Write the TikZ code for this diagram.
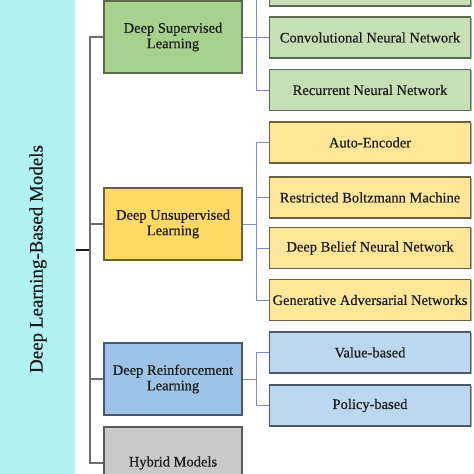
\documentclass[tikz,border=0pt]{standalone}
\usepackage{fontspec}
\setmainfont{Liberation Serif}[FakeBold=0.4]
\definecolor{cyanbar}{HTML}{B2F1F2}
\definecolor{supP}{HTML}{A9D18E}
\definecolor{supC}{HTML}{C5E0B4}
\definecolor{supB}{HTML}{5A6B50}
\definecolor{unsP}{HTML}{FFD966}
\definecolor{unsC}{HTML}{FFE699}
\definecolor{unsB}{HTML}{6B6040}
\definecolor{reiP}{HTML}{9DC3E6}
\definecolor{reiC}{HTML}{BDD7EE}
\definecolor{reiB}{HTML}{4A5868}
\definecolor{hybP}{HTML}{C9C9C9}
\definecolor{hybB}{HTML}{5A5A5A}
\definecolor{mainline}{HTML}{6E6E6E}
\definecolor{subline}{HTML}{7F8CC8}
\definecolor{txt}{HTML}{1A1A1A}
\usetikzlibrary{shadows}
\tikzset{
  parentbox/.style={draw=#1, line width=1.3pt, minimum width=138pt, minimum height=72pt, align=center, inner sep=0pt, font=\fontsize{14.5}{15.5}\selectfont, text=txt},
  childbox/.style={draw=#1, line width=1.2pt, minimum width=201pt, minimum height=41pt, inner sep=0pt, font=\fontsize{14.5}{15.5}\selectfont, text=txt, drop shadow={shadow xshift=1.5pt, shadow yshift=-0.5pt, fill=#1}},
  mainconn/.style={draw=mainline, line width=1.1pt},
  subconn/.style={draw=subline, line width=1pt},
}
\begin{document}
\begin{tikzpicture}[x=1pt,y=-1pt]
\useasboundingbox (0,0) rectangle (474,474);
\clip (0,0) rectangle (474,474);
% left bar
\fill[cyanbar] (0,-2) rectangle (75,476);
\node[rotate=90, font=\fontsize{19}{21}\selectfont, text=txt] (root) at (38,259) {Deep Learning-Based Models};
\coordinate (rootR) at (76,250);
\coordinate (trunk) at (90,250);
% parents
\node[parentbox=supB, fill=supP] (sup) at (173,37) {Deep Supervised\\Learning};
\node[parentbox=unsB, fill=unsP] (uns) at (173,224) {Deep Unsupervised\\Learning};
\node[parentbox=reiB, fill=reiP] (rei) at (173,379) {Deep Reinforcement\\Learning};
\node[parentbox=hybB, fill=hybP, minimum height=72pt] (hyb) at (173,463) {Hybrid Models};
% children supervised
\node[childbox=supB, fill=supC] (s0) at (370,-14.5) {};
\node[childbox=supB, fill=supC] (s1) at (370,37.5) {Convolutional Neural Network};
\node[childbox=supB, fill=supC] (s2) at (370,90) {Recurrent Neural Network};
% unsupervised
\node[childbox=unsB, fill=unsC] (u1) at (370,142.5) {Auto-Encoder};
\node[childbox=unsB, fill=unsC] (u2) at (370,197.5) {Restricted Boltzmann Machine};
\node[childbox=unsB, fill=unsC] (u3) at (370,248) {Deep Belief Neural Network};
\node[childbox=unsB, fill=unsC] (u4) at (370,300) {Generative Adversarial Networks};
% reinforcement
\node[childbox=reiB, fill=reiC] (r1) at (370,352.5) {Value-based};
\node[childbox=reiB, fill=reiC] (r2) at (370,405.5) {Policy-based};
% main connectors
\draw[draw=txt, line width=1.4pt] (rootR) -- (trunk);
\draw[mainconn] (sup.west) -| (trunk) |- (hyb.west);
\draw[mainconn] (uns.west) -- (uns.west -| trunk);
\draw[mainconn] (rei.west) -- (rei.west -| trunk);
% sub connectors
\coordinate (sx) at (256,0);
\draw[subconn] (sup.east) -- (sup.east -| sx);
\draw[subconn] (s0.west) -| (sx |- s0.west) |- (s2.west);
\draw[subconn] (sx |- s1.west) -- (s1.west);
\draw[subconn] (uns.east) -- (uns.east -| sx);
\draw[subconn] (u1.west) -| (sx |- u1.west) |- (u4.west);
\draw[subconn] (sx |- u2.west) -- (u2.west);
\draw[subconn] (sx |- u3.west) -- (u3.west);
\draw[subconn] (rei.east) -- (rei.east -| sx);
\draw[subconn] (r1.west) -| (sx |- r1.west) |- (r2.west);
\end{tikzpicture}
\end{document}
